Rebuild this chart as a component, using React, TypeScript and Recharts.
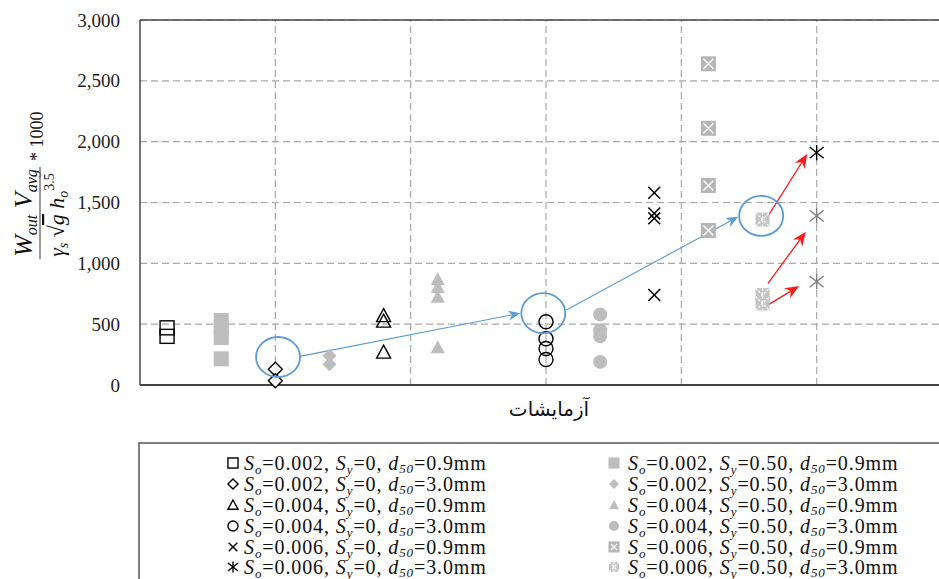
import React from 'react';
import { ScatterChart, Scatter, XAxis, YAxis, CartesianGrid, ReferenceLine, ReferenceDot } from 'recharts';

const GRAY = '#bdbdbd';
const BLUE = '#5b9bd5';
const RED = '#ff1a1a';
const SERIF = '"Liberation Serif", "Times New Roman", serif';

const yTicks = [0, 500, 1000, 1500, 2000, 2500, 3000];
const xGroups = [0, 1, 2, 3, 4, 5, 6];
const xGridLines = [1, 2, 3, 4, 5];

// measured values per test group (x = position along the test axis)
const sqOpen = { x: 0.2, vals: [470, 400] };
const sqGray = { x: 0.6, vals: [530, 460, 390, 215] };
const diaOpen = { x: 1.0, vals: [130, 35] };
const diaGray = { x: 1.4, vals: [240, 170] };
const triOpen = { x: 1.8, vals: [570, 525, 270] };
const triGray = { x: 2.2, vals: [870, 805, 725, 310] };
const cirOpen = { x: 3.0, vals: [520, 380, 300, 210] };
const cirGray = { x: 3.4, vals: [580, 450, 400, 190] };
const crossBlack = { x: 3.8, vals: [1580, 1410, 1370, 740] };
const xSqGray = { x: 4.2, vals: [2640, 2110, 1640, 1270] };
const dotSqGray = { x: 4.6, vals: [1360, 740, 670] };
const starBlack = { x: 5.0, vals: [1910] };
const starGray = { x: 5.0, vals: [1390, 850] };

const seriesList = [
  { name: 'sqOpen', d: sqOpen, marker: 'square' },
  { name: 'sqGray', d: sqGray, marker: 'graySquare' },
  { name: 'diaOpen', d: diaOpen, marker: 'diamond' },
  { name: 'diaGray', d: diaGray, marker: 'grayDiamond' },
  { name: 'triOpen', d: triOpen, marker: 'triangle' },
  { name: 'triGray', d: triGray, marker: 'grayTriangle' },
  { name: 'cirOpen', d: cirOpen, marker: 'circle' },
  { name: 'cirGray', d: cirGray, marker: 'grayCircle' },
  { name: 'crossBlack', d: crossBlack, marker: 'cross' },
  { name: 'xSqGray', d: xSqGray, marker: 'xSquare' },
  { name: 'dotSqGray', d: dotSqGray, marker: 'dotSquare' },
  { name: 'starBlack', d: starBlack, marker: 'star' },
  { name: 'starGray', d: starGray, marker: 'grayStar' },
];

// highlighted points (blue ellipses) and annotation arrows, in data units
const highlights = [
  { x: 1.02, y: 230 },
  { x: 2.98, y: 590 },
  { x: 4.59, y: 1390 },
];
const blueArrows = [
  [{ x: 1.18, y: 235 }, { x: 2.81, y: 590 }],
  [{ x: 3.15, y: 616 }, { x: 4.42, y: 1383 }],
];
const redArrows = [
  [{ x: 4.63, y: 1370 }, { x: 4.93, y: 1899 }],
  [{ x: 4.64, y: 836 }, { x: 4.92, y: 1260 }],
  [{ x: 4.62, y: 644 }, { x: 4.87, y: 814 }],
];

const legendLeft = [
  { marker: 'square', so: '0.002', sy: '0', d50: '0.9' },
  { marker: 'diamond', so: '0.002', sy: '0', d50: '3.0' },
  { marker: 'triangle', so: '0.004', sy: '0', d50: '0.9' },
  { marker: 'circle', so: '0.004', sy: '0', d50: '3.0' },
  { marker: 'cross', so: '0.006', sy: '0', d50: '0.9' },
  { marker: 'star', so: '0.006', sy: '0', d50: '3.0' },
];
const legendRight = [
  { marker: 'graySquare', so: '0.002', sy: '0.50', d50: '0.9' },
  { marker: 'grayDiamond', so: '0.002', sy: '0.50', d50: '3.0' },
  { marker: 'grayTriangle', so: '0.004', sy: '0.50', d50: '0.9' },
  { marker: 'grayCircle', so: '0.004', sy: '0.50', d50: '3.0' },
  { marker: 'xSquare', so: '0.006', sy: '0.50', d50: '0.9' },
  { marker: 'dotSquare', so: '0.006', sy: '0.50', d50: '3.0' },
];

function drawMarker(kind: string, cx: number, cy: number, k = 1) {
  const h = 7 * k;
  switch (kind) {
    case 'square':
      return <rect x={cx - h} y={cy - h} width={2 * h} height={2 * h} fill="none" stroke="#000" strokeWidth={1.4} />;
    case 'graySquare':
      return <rect x={cx - h - 0.5} y={cy - h - 0.5} width={2 * h + 1} height={2 * h + 1} fill={GRAY} />;
    case 'diamond':
      return <polygon points={`${cx},${cy - h} ${cx + h},${cy} ${cx},${cy + h} ${cx - h},${cy}`} fill="#fff" stroke="#000" strokeWidth={1.4} />;
    case 'grayDiamond':
      return <polygon points={`${cx},${cy - h} ${cx + h},${cy} ${cx},${cy + h} ${cx - h},${cy}`} fill={GRAY} />;
    case 'triangle':
      return <polygon points={`${cx},${cy - h} ${cx + h},${cy + h * 0.85} ${cx - h},${cy + h * 0.85}`} fill="none" stroke="#000" strokeWidth={1.4} />;
    case 'grayTriangle':
      return <polygon points={`${cx},${cy - h} ${cx + h},${cy + h * 0.85} ${cx - h},${cy + h * 0.85}`} fill={GRAY} />;
    case 'circle':
      return <circle cx={cx} cy={cy} r={h} fill="none" stroke="#000" strokeWidth={1.4} />;
    case 'grayCircle':
      return <circle cx={cx} cy={cy} r={h} fill={GRAY} />;
    case 'cross':
      return (
        <g stroke="#000" strokeWidth={1.5}>
          <line x1={cx - h * 0.85} y1={cy - h * 0.85} x2={cx + h * 0.85} y2={cy + h * 0.85} />
          <line x1={cx - h * 0.85} y1={cy + h * 0.85} x2={cx + h * 0.85} y2={cy - h * 0.85} />
        </g>
      );
    case 'xSquare':
      return (
        <g>
          <rect x={cx - h - 0.5} y={cy - h - 0.5} width={2 * h + 1} height={2 * h + 1} fill="#b5b5b5" />
          <g stroke="#fff" strokeWidth={1.3}>
            <line x1={cx - h + 2} y1={cy - h + 2} x2={cx + h - 2} y2={cy + h - 2} />
            <line x1={cx - h + 2} y1={cy + h - 2} x2={cx + h - 2} y2={cy - h + 2} />
          </g>
        </g>
      );
    case 'dotSquare':
      return (
        <g>
          <rect x={cx - h} y={cy - h} width={2 * h} height={2 * h} fill="#c4c4c4" />
          <g stroke="#fff" strokeWidth={1.2} strokeDasharray="2.5 1.5">
            <line x1={cx} y1={cy - h} x2={cx} y2={cy + h} />
            <line x1={cx - h} y1={cy - h} x2={cx + h} y2={cy + h} />
            <line x1={cx - h} y1={cy + h} x2={cx + h} y2={cy - h} />
          </g>
        </g>
      );
    case 'star':
    case 'grayStar': {
      const c = kind === 'star' ? '#000' : '#808080';
      return (
        <g stroke={c} strokeWidth={1.4}>
          <line x1={cx} y1={cy - h * 1.1} x2={cx} y2={cy + h * 1.1} />
          <line x1={cx - h} y1={cy - h * 0.8} x2={cx + h} y2={cy + h * 0.8} />
          <line x1={cx - h} y1={cy + h * 0.8} x2={cx + h} y2={cy - h * 0.8} />
        </g>
      );
    }
    default:
      return null;
  }
}

const arrowShape = (color: string, width: number, head: number) => (p: any) => {
  const { x1, y1, x2, y2 } = p;
  const ang = Math.atan2(y2 - y1, x2 - x1);
  const c = Math.cos(ang);
  const s = Math.sin(ang);
  const bx = x2 - head * c;
  const by = y2 - head * s;
  const nx = x2 - head * 0.7 * c;
  const ny = y2 - head * 0.7 * s;
  const w = head * 0.42;
  return (
    <g>
      <line x1={x1} y1={y1} x2={nx} y2={ny} stroke={color} strokeWidth={width} />
      <polygon
        points={`${x2},${y2} ${bx - w * s},${by + w * c} ${nx},${ny} ${bx + w * s},${by - w * c}`}
        fill={color}
      />
    </g>
  );
};

const ellipseShape = (p: any) => (
  <ellipse cx={p.cx} cy={p.cy} rx={22} ry={20} fill="none" stroke={BLUE} strokeWidth={1.8} />
);

const YTick = (p: any) => (
  <text x={p.x} y={p.y} dy={6.5} textAnchor="end" fontFamily={SERIF} fontSize={19} fill="#222">
    {Number(p.payload.value).toLocaleString('en-US')}
  </text>
);

function LegendRow({ item, mx, tx, cy }: any) {
  return (
    <g>
      {drawMarker(item.marker, mx, cy, 0.72)}
      <text x={tx} y={cy + 7} fontFamily={SERIF} fontSize={20} letterSpacing={0.9} fill="#111">
        <tspan fontStyle="italic">S</tspan>
        <tspan fontStyle="italic" fontSize={13} dy={4}>o</tspan>
        <tspan dy={-4}>{`=${item.so}, `}</tspan>
        <tspan fontStyle="italic">S</tspan>
        <tspan fontStyle="italic" fontSize={13} dy={4}>y</tspan>
        <tspan dy={-4}>{`=${item.sy}, `}</tspan>
        <tspan fontStyle="italic">d</tspan>
        <tspan fontStyle="italic" fontSize={13} dy={3}>50</tspan>
        <tspan dy={-3}>{`=${item.d50}mm`}</tspan>
      </text>
    </g>
  );
}

export default function App() {
  const rowY = [463, 484, 505, 526, 547, 567];
  return (
    <div style={{ position: 'fixed', left: 0, top: 0, width: 939, height: 579, overflow: 'hidden', background: '#fff' }}>
      <div style={{ position: 'absolute', left: 0, top: 0 }}>
        <ScatterChart width={962} height={440} margin={{ top: 20, right: 10, bottom: 25, left: 0 }}>
          <CartesianGrid vertical={false} strokeDasharray="7 4" stroke="#a8a8a8" strokeWidth={1.2} />
          {xGridLines.map((g) => (
            <ReferenceLine key={`v${g}`} x={g} stroke="#a8a8a8" strokeWidth={1.2} strokeDasharray="7 4" />
          ))}
          <XAxis
            type="number"
            dataKey="x"
            domain={[0, 6]}
            ticks={xGroups}
            tick={false}
            tickLine={false}
            height={30}
            axisLine={{ stroke: '#444', strokeWidth: 2 }}
          />
          <YAxis
            type="number"
            dataKey="y"
            domain={[0, 3000]}
            ticks={yTicks}
            width={140}
            tickLine={false}
            tickSize={6}
            tickMargin={14}
            axisLine={{ stroke: '#444', strokeWidth: 1.5 }}
            tick={<YTick />}
          />
          <ReferenceLine y={3000} stroke="#444" strokeWidth={1.5} />
          {seriesList.map((sr) => (
            <Scatter
              key={sr.name}
              name={sr.name}
              data={sr.d.vals.map((v) => ({ x: sr.d.x, y: v }))}
              isAnimationActive={false}
              shape={(p: any) => drawMarker(sr.marker, p.cx, p.cy)}
            />
          ))}
          {blueArrows.map((seg, i) => (
            <ReferenceLine key={`b${i}`} segment={seg} ifOverflow="visible" shape={arrowShape(BLUE, 1.1, 12)} />
          ))}
          {redArrows.map((seg, i) => (
            <ReferenceLine key={`r${i}`} segment={seg} ifOverflow="visible" shape={arrowShape(RED, 1.3, 14)} />
          ))}
          {highlights.map((h, i) => (
            <ReferenceDot key={`h${i}`} x={h.x} y={h.y} r={21} ifOverflow="visible" shape={ellipseShape} />
          ))}
        </ScatterChart>
      </div>
      <svg width={939} height={579} style={{ position: 'absolute', left: 0, top: 0, pointerEvents: 'none' }}>
        {/* y-axis label */}
        <g transform="translate(40,213) rotate(-90)" fontFamily={SERIF} fill="#111">
          <text x={0} y={-8} textAnchor="middle" fontSize={26} fontStyle="italic">
            <tspan>W</tspan>
            <tspan fontSize={16} dy={5}>out</tspan>
            <tspan dy={-5}> V</tspan>
            <tspan fontSize={16} dy={5}>avg</tspan>
          </text>
          <line x1={-46} y1={0} x2={46} y2={0} stroke="#777" strokeWidth={1.5} />
          <text x={-2} y={24} textAnchor="middle" fontSize={22} fontStyle="italic">
            <tspan>γ</tspan>
            <tspan fontSize={14} dy={4}>s</tspan>
            <tspan dy={-4} fontStyle="normal"> √</tspan>
            <tspan textDecoration="overline">g</tspan>
            <tspan> h</tspan>
            <tspan fontSize={14} dy={4}>o</tspan>
            <tspan fontSize={14} dy={-14} fontStyle="normal">3.5</tspan>
          </text>
          <text x={52} y={3} fontSize={18}>* 1000</text>
        </g>
        {/* x-axis label */}
        <text x={549} y={416} textAnchor="middle" fontFamily='"DejaVu Sans", sans-serif' fontSize={20} fill="#111">
          آزمایشات
        </text>
        {/* legend box */}
        <rect x={139} y={443} width={900} height={200} fill="none" stroke="#555" strokeWidth={1.5} />
        {legendLeft.map((it, i) => (
          <LegendRow key={`l${i}`} item={it} mx={233} tx={244} cy={rowY[i]} />
        ))}
        {legendRight.map((it, i) => (
          <LegendRow key={`rr${i}`} item={it} mx={614} tx={628} cy={rowY[i]} />
        ))}
      </svg>
    </div>
  );
}
